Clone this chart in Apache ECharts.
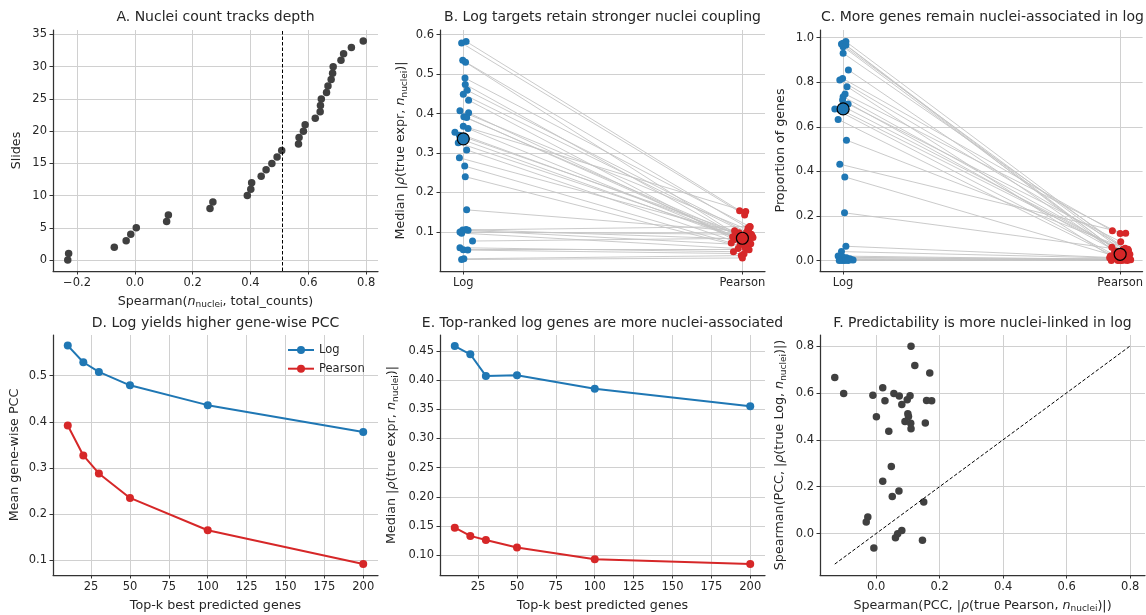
<!DOCTYPE html>
<html>
<head>
<meta charset="utf-8">
<script src="https://cdn.jsdelivr.net/npm/echarts@6/dist/echarts.min.js"></script>
<style>html,body{margin:0;padding:0;background:#fff}#chart{width:1146px;height:615px}</style>
</head>
<body>
<div id="chart"></div>
<script>
// panel A: per-slide Spearman(n_nuclei, total_counts), sorted (slide index = rank)
const slideCorr = [-0.232, -0.229, -0.071, -0.030, -0.014, 0.005, 0.110, 0.116, 0.260, 0.270,
  0.389, 0.401, 0.404, 0.437, 0.454, 0.474, 0.492, 0.508, 0.566, 0.568,
  0.583, 0.589, 0.624, 0.641, 0.642, 0.645, 0.663, 0.668, 0.679, 0.684,
  0.686, 0.713, 0.722, 0.749, 0.790]
const depthCut = 0.505

// panel B: median |rho(true expr, n_nuclei)| per slide
const bLog = [0.583, 0.579, 0.535, 0.530, 0.490, 0.474, 0.459, 0.449, 0.434, 0.407,
  0.402, 0.392, 0.390, 0.368, 0.362, 0.353, 0.345, 0.335, 0.326, 0.308,
  0.288, 0.267, 0.240, 0.156, 0.106, 0.105, 0.104, 0.100, 0.097, 0.077,
  0.060, 0.055, 0.054, 0.032, 0.030]
const bPearson = [0.154, 0.143, 0.110, 0.095, 0.113, 0.085, 0.100, 0.090, 0.080, 0.105,
  0.075, 0.092, 0.070, 0.152, 0.088, 0.083, 0.098, 0.078, 0.090, 0.065,
  0.086, 0.072, 0.060, 0.103, 0.082, 0.114, 0.068, 0.094, 0.058, 0.084,
  0.050, 0.055, 0.045, 0.040, 0.034]
const bLogJit = [0.010, -0.006, -0.002, 0.008, 0.006, 0.007, 0.014, 0.000, 0.019, -0.012,
  0.019, 0.002, 0.012, 0.000, 0.017, -0.030, -0.014, -0.007, -0.018, 0.012,
  -0.014, 0.005, 0.007, 0.012, 0.010, -0.002, 0.017, -0.012, -0.006, 0.033,
  -0.012, 0.000, 0.016, 0.002, -0.006]
const bPearsonJit = [-0.010, 0.008, 0.020, -0.025, 0.028, -0.005, 0.015, 0.035, -0.030, 0.022,
  0.000, -0.018, 0.030, 0.012, -0.035, 0.025, -0.012, 0.005, -0.022, 0.018,
  0.038, -0.040, 0.010, -0.028, 0.002, 0.026, -0.008, 0.032, -0.015, 0.014,
  -0.032, 0.024, 0.006, -0.004, 0.000]
const bSummary = [0.336, 0.084]

// panel C: proportion of nuclei-associated genes per slide
const cLog = [0.982, 0.975, 0.971, 0.967, 0.959, 0.930, 0.855, 0.817, 0.810, 0.780,
  0.747, 0.735, 0.720, 0.702, 0.690, 0.680, 0.679, 0.633, 0.540, 0.432,
  0.375, 0.214, 0.064, 0.040, 0.020, 0.015, 0.012, 0.008, 0.005, 0.003,
  0.002, 0.000, 0.000, 0.000, 0.000]
const cPearson = [0.050, 0.040, 0.030, 0.060, 0.025, 0.045, 0.035, 0.133, 0.055, 0.020,
  0.121, 0.032, 0.042, 0.084, 0.028, 0.015, 0.038, 0.022, 0.050, 0.122,
  0.018, 0.048, 0.010, 0.012, 0.005, 0.000, 0.008, 0.003, 0.000, 0.002,
  0.000, 0.004, 0.000, 0.006, 0.001]
const cLogJit = [0.010, 0.000, -0.006, 0.010, 0.000, 0.000, 0.019, -0.002, -0.012, 0.014,
  0.007, 0.000, -0.002, 0.018, 0.002, -0.030, -0.012, -0.018, 0.012, -0.012,
  0.006, 0.005, 0.010, -0.006, -0.018, 0.000, 0.012, 0.024, -0.010, 0.030,
  0.036, -0.004, 0.006, -0.014, 0.018]
const cPearsonJit = [0.012, -0.020, 0.025, -0.030, 0.008, 0.030, -0.010, -0.028, 0.018, -0.035,
  0.000, 0.022, -0.015, 0.002, 0.035, -0.005, 0.015, -0.025, 0.028, 0.020,
  -0.012, 0.010, 0.032, -0.038, 0.004, 0.026, -0.022, 0.038, -0.008, 0.016,
  -0.032, 0.020, 0.006, 0.030, -0.002]
const cSummary = [0.680, 0.028]

// panels D/E: top-k curves
const topK = [10, 20, 30, 50, 100, 200]
const dLog = [0.565, 0.529, 0.508, 0.479, 0.436, 0.378]
const dPearson = [0.392, 0.327, 0.288, 0.235, 0.165, 0.092]
const eLog = [0.458, 0.444, 0.407, 0.408, 0.385, 0.355]
const ePearson = [0.147, 0.133, 0.126, 0.113, 0.093, 0.085]

// panel F: per-slide spearman pairs
const fx = [-0.130, -0.102, -0.010, 0.001, 0.021, 0.028, 0.056, 0.040, 0.073, 0.081,
  0.098, 0.107, 0.100, 0.102, 0.091, 0.109, 0.110, 0.110, 0.122, 0.169,
  0.159, 0.175, 0.155, 0.048, 0.021, 0.051, 0.072, 0.150, -0.026, -0.031,
  0.081, 0.068, 0.061, -0.007, 0.146]
const fy = [0.665, 0.597, 0.590, 0.498, 0.622, 0.566, 0.597, 0.436, 0.587, 0.550,
  0.570, 0.588, 0.511, 0.499, 0.478, 0.470, 0.447, 0.799, 0.717, 0.684,
  0.567, 0.566, 0.471, 0.286, 0.223, 0.158, 0.182, 0.135, 0.071, 0.049,
  0.013, -0.001, -0.018, -0.061, -0.028]
const diag = [-0.13, 0.8]

const FONT = 'DejaVu Sans'
const TXT = '#262626'
const BLUE = '#1f77b4'
const RED = '#d62728'
const DOT = '#404040'

const rich = {
  it: { fontStyle: 'italic', fontFamily: FONT, fontSize: 12.7, color: TXT, lineHeight: 17 },
  sub: { fontFamily: FONT, fontSize: 9, color: TXT, lineHeight: 10, padding: [7, 0, 0, 0] }
}

function onStep(v, s) {
  let r = v / s
  return Math.abs(r - Math.round(r)) < 1e-6
}
function numFmt(step, dec) {
  return function(v) {
    if (!onStep(v, step)) return ''
    let s = Math.abs(v).toFixed(dec)
    if (v < -1e-9) s = '\u2212' + s
    return s
  }
}
function catFmt(v) {
  if (Math.abs(v) < 1e-6) return 'Log'
  if (Math.abs(v - 1) < 1e-6) return 'Pearson'
  return ''
}

// min / max are never on a tick here, so the extent label+tick get hidden
function axis(gi, min, max, step, fmt, name, gap) {
  return {
    type: 'value', gridIndex: gi, min: min, max: max,
    minInterval: step, maxInterval: step,
    axisLine: { show: true, onZero: false, lineStyle: { color: '#333', width: 1.25 } },
    axisTick: { show: true, inside: false, length: 3.5, lineStyle: { color: '#333', width: 1 } },
    axisLabel: {
      margin: 6, fontFamily: FONT, fontSize: 11.5, color: TXT, formatter: fmt,
      showMinLabel: false, showMaxLabel: false
    },
    splitLine: { show: true, showMinLine: false, showMaxLine: false, lineStyle: { color: '#d0d0d0', width: 1 } },
    name: name, nameLocation: 'middle', nameGap: gap,
    nameTextStyle: { fontFamily: FONT, fontSize: 12.7, color: TXT, lineHeight: 17, rich: rich }
  }
}

const nucLbl = '{it|n}{sub|nuclei}'
const grids = [
  { left: 53, top: 30, width: 325, height: 241 },
  { left: 440, top: 30, width: 325, height: 241 },
  { left: 820, top: 30, width: 325, height: 241 },
  { left: 53, top: 335, width: 325, height: 242 },
  { left: 440, top: 335, width: 325, height: 241 },
  { left: 820, top: 335, width: 325, height: 242 }
]

const xAxes = [
  axis(0, -0.283, 0.841, 0.2, numFmt(0.2, 1), 'Spearman(' + nucLbl + ', total_counts)', 22),
  axis(1, -0.0835, 1.081, 1, catFmt, '', 20),
  axis(2, -0.0835, 1.081, 1, catFmt, '', 20),
  axis(3, 0.5, 209.5, 25, numFmt(25, 0), 'Top-k best predicted genes', 22),
  axis(4, 0.5, 209.5, 25, numFmt(25, 0), 'Top-k best predicted genes', 22),
  axis(5, -0.1765, 0.8465, 0.2, numFmt(0.2, 1), 'Spearman(PCC, |{it|ρ}(true Pearson, ' + nucLbl + ')|)', 22)
]
const yAxes = [
  axis(0, -1.7, 35.7, 5, numFmt(5, 0), 'Slides', 27.5),
  axis(1, 0.001, 0.612, 0.1, numFmt(0.1, 1), 'Median |{it|ρ}(true expr, ' + nucLbl + ')|', 30.5),
  axis(2, -0.047, 1.034, 0.2, numFmt(0.2, 1), 'Proportion of genes', 30.5),
  axis(3, 0.068, 0.588, 0.1, numFmt(0.1, 1), 'Mean gene-wise PCC', 29.5),
  axis(4, 0.066, 0.477, 0.05, numFmt(0.05, 2), 'Median |{it|ρ}(true expr, ' + nucLbl + ')|', 39.5),
  axis(5, -0.1765, 0.8465, 0.2, numFmt(0.2, 1), 'Spearman(PCC, |{it|ρ}(true Log, ' + nucLbl + ')|)', 31.5)
]

const titles = [
  ['A. Nuclei count tracks depth', 215.5, 10],
  ['B. Log targets retain stronger nuclei coupling', 602.5, 10],
  ['C. More genes remain nuclei-associated in log', 982.5, 10],
  ['D. Log yields higher gene-wise PCC', 215.5, 316],
  ['E. Top-ranked log genes are more nuclei-associated', 602.5, 316],
  ['F. Predictability is more nuclei-linked in log', 982.5, 316]
].map(function(t) {
  return {
    text: t[0], left: t[1], top: t[2], textAlign: 'center', padding: 0,
    textStyle: { fontFamily: FONT, fontSize: 14, fontWeight: 'normal', color: TXT }
  }
})

function pairedSeries(gi, logV, pV, logJ, pJ, summary) {
  let segs = logV.map(function(v, i) {
    return { coords: [[logJ[i], v], [1 + pJ[i], pV[i]]] }
  })
  return [
    {
      type: 'lines', coordinateSystem: 'cartesian2d', xAxisIndex: gi, yAxisIndex: gi,
      data: segs, symbol: 'none', silent: true, z: 1,
      lineStyle: { color: '#c4c4c4', width: 1, opacity: 0.9 }
    },
    {
      type: 'scatter', name: 'log' + gi, xAxisIndex: gi, yAxisIndex: gi, z: 2,
      symbolSize: 7, itemStyle: { color: BLUE, opacity: 1 },
      data: logV.map(function(v, i) { return [logJ[i], v] })
    },
    {
      type: 'scatter', name: 'pearson' + gi, xAxisIndex: gi, yAxisIndex: gi, z: 2,
      symbolSize: 7, itemStyle: { color: RED, opacity: 1 },
      data: pV.map(function(v, i) { return [1 + pJ[i], v] })
    },
    {
      type: 'scatter', name: 'summary' + gi, xAxisIndex: gi, yAxisIndex: gi, z: 3,
      symbolSize: 12,
      data: [
        { value: [0, summary[0]], itemStyle: { color: BLUE, opacity: 1, borderColor: '#000', borderWidth: 1.2 } },
        { value: [1, summary[1]], itemStyle: { color: RED, opacity: 1, borderColor: '#000', borderWidth: 1.2 } }
      ]
    }
  ]
}

function curve(gi, name, ys, color) {
  return {
    type: 'line', name: name, xAxisIndex: gi, yAxisIndex: gi,
    symbol: 'circle', symbolSize: 8, showSymbol: true,
    lineStyle: { color: color, width: 2 }, itemStyle: { color: color },
    data: topK.map(function(k, i) { return [k, ys[i]] })
  }
}

let series = [
  {
    type: 'scatter', name: 'slides', xAxisIndex: 0, yAxisIndex: 0, symbolSize: 7.5,
    itemStyle: { color: DOT, opacity: 1 },
    data: slideCorr.map(function(x, i) { return [x, i] }),
    markLine: {
      silent: true, symbol: ['none', 'none'], label: { show: false },
      lineStyle: { color: '#000', width: 1, type: [3.5, 2] },
      data: [{ xAxis: depthCut }]
    }
  }
]
series = series.concat(pairedSeries(1, bLog, bPearson, bLogJit, bPearsonJit, bSummary))
series = series.concat(pairedSeries(2, cLog, cPearson, cLogJit, cPearsonJit, cSummary))
series.push(curve(3, 'Log', dLog, BLUE))
series.push(curve(3, 'Pearson', dPearson, RED))
series.push(curve(4, 'Log ', eLog, BLUE))
series.push(curve(4, 'Pearson ', ePearson, RED))
series.push({
  type: 'line', name: 'diag', xAxisIndex: 5, yAxisIndex: 5, symbol: 'none', silent: true,
  lineStyle: { color: '#000', width: 1, type: [3.5, 2] },
  data: [[diag[0], diag[0]], [diag[1], diag[1]]]
})
series.push({
  type: 'scatter', name: 'genes', xAxisIndex: 5, yAxisIndex: 5, symbolSize: 7.5,
  itemStyle: { color: DOT, opacity: 1 },
  data: fx.map(function(x, i) { return [x, fy[i]] })
})

let myChart = echarts.init(document.getElementById('chart'), null, { renderer: 'canvas' })
myChart.setOption({
  animation: false,
  backgroundColor: '#fff',
  title: titles,
  grid: grids,
  xAxis: xAxes,
  yAxis: yAxes,
  legend: {
    data: ['Log', 'Pearson'], left: 287, top: 344, orient: 'vertical', padding: 0,
    itemWidth: 26, itemHeight: 10, itemGap: 6.7,
    textStyle: { fontFamily: FONT, fontSize: 11.5, color: TXT }
  },
  series: series
})
</script>
</body>
</html>
